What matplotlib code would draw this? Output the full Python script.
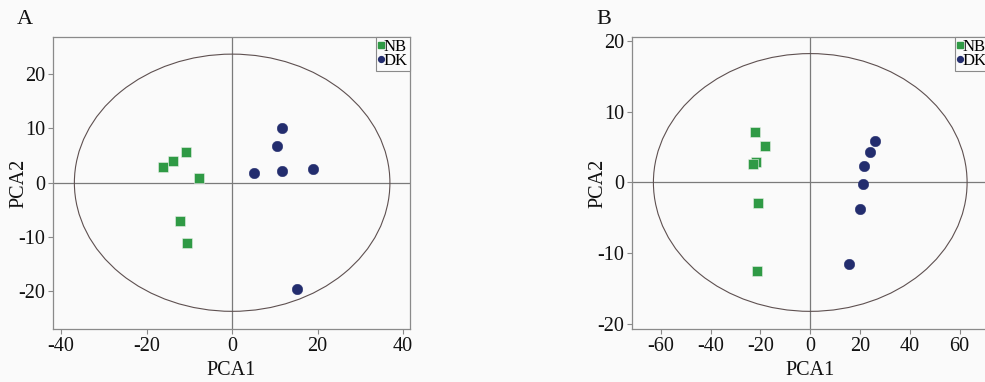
import matplotlib
matplotlib.use("Agg")
import matplotlib.pyplot as plt
from matplotlib.patches import Ellipse
from matplotlib.lines import Line2D

plt.rcParams['font.family'] = ['Liberation Serif', 'DejaVu Serif']

# Panel A data
a_nb_x = [-16.1, -13.8, -10.9, -7.7, -12.1, -10.5]
a_nb_y = [2.9, 4.0, 5.7, 0.9, -7.0, -11.1]
a_dk_x = [11.7, 10.5, 5.1, 11.7, 18.8, 15.2]
a_dk_y = [10.0, 6.8, 1.7, 2.1, 2.5, -19.5]
a_ellipse = (36.9, 23.65)  # semi-axes
a_xticks = [-40, -20, 0, 20, 40]
a_yticks = [-20, -10, 0, 10, 20]

# Panel B data
b_nb_x = [-22.3, -18.3, -21.7, -22.9, -21.0, -21.4]
b_nb_y = [7.1, 5.1, 2.9, 2.55, -2.9, -12.5]
b_dk_x = [26.1, 24.0, 21.7, 21.0, 20.0, 15.4]
b_dk_y = [5.9, 4.3, 2.3, -0.25, -3.7, -11.6]
b_ellipse = (63.0, 18.25)
b_xticks = [-60, -40, -20, 0, 20, 40, 60]
b_yticks = [-20, -10, 0, 10, 20]

labels = ['NB', 'DK']
green = '#2f9a45'
navy = '#232d6e'
bg = '#fafafa'
spine_c = '#8a8a8a'

fig = plt.figure(figsize=(9.85, 3.82), dpi=100, facecolor=bg)

def panel(rect, nbx, nby, dkx, dky, ell, xlim, ylim, xticks, yticks):
    ax = fig.add_axes(rect)
    ax.set_facecolor(bg)
    ax.set_xlim(*xlim)
    ax.set_ylim(*ylim)
    ax.axhline(0, color='#7a7a7a', lw=0.9, zorder=1)
    ax.axvline(0, color='#7a7a7a', lw=0.9, zorder=1)
    ax.add_patch(Ellipse((0, 0), 2 * ell[0], 2 * ell[1], fill=False,
                         edgecolor='#5e5050', lw=0.8, zorder=1))
    ax.plot(nbx, nby, 's', color=green, ms=7.4, mec='#e8f0e8', mew=0.4,
            ls='none', zorder=3)
    ax.plot(dkx, dky, 'o', color=navy, ms=7.6, mec=navy, mew=0.3,
            ls='none', zorder=3)
    ax.set_xticks(xticks)
    ax.set_yticks(yticks)
    ax.set_xticklabels([str(t) for t in xticks])
    ax.set_yticklabels([str(t) for t in yticks])
    for s in ax.spines.values():
        s.set_color(spine_c)
        s.set_linewidth(0.9)
    ax.tick_params(direction='out', length=3.5, width=0.8, color=spine_c,
                   labelsize=14.5, pad=2, labelcolor='#111111')
    xl = ax.set_xlabel('PCA1', fontsize=14.5, color='#111111')
    yl = ax.set_ylabel('PCA2', fontsize=14.5, color='#111111')
    xl.set_va('center')
    yl.set_va('center')
    ax.xaxis.set_label_coords(0.5, -0.142)
    ax.yaxis.set_label_coords(-0.095, 0.5)
    handles = [Line2D([], [], marker='s', color=green, ls='none', ms=4.2),
               Line2D([], [], marker='o', color=navy, ls='none', ms=4.2)]
    leg = ax.legend(handles, labels, loc='upper right', fontsize=12,
                    frameon=True, fancybox=False, borderaxespad=0.0,
                    handlelength=0.35, handletextpad=0.0, borderpad=0.12,
                    labelspacing=-0.1, framealpha=1)
    leg.get_frame().set_edgecolor('#8a8a8a')
    leg.get_frame().set_linewidth(0.8)
    leg.get_frame().set_facecolor(bg)
    return ax

W, H = 985.0, 382.0
axA = panel([53 / W, 1 - 329 / H, 357 / W, 292 / H], a_nb_x, a_nb_y, a_dk_x, a_dk_y,
            a_ellipse, (-41.9, 41.6), (-26.9, 26.8), a_xticks, a_yticks)
axB = panel([632 / W, 1 - 329 / H, 357 / W, 292 / H], b_nb_x, b_nb_y, b_dk_x, b_dk_y,
            b_ellipse, (-71.6, 71.8), (-20.75, 20.6), b_xticks, b_yticks)

fig.text(17 / W, 1 - 20 / H, 'A', fontsize=16, va='center', ha='left', color='#111111')
fig.text(596 / W, 1 - 20 / H, 'B', fontsize=16, va='center', ha='left', color='#111111')

fig.savefig('out.png', dpi=100, facecolor=bg)
